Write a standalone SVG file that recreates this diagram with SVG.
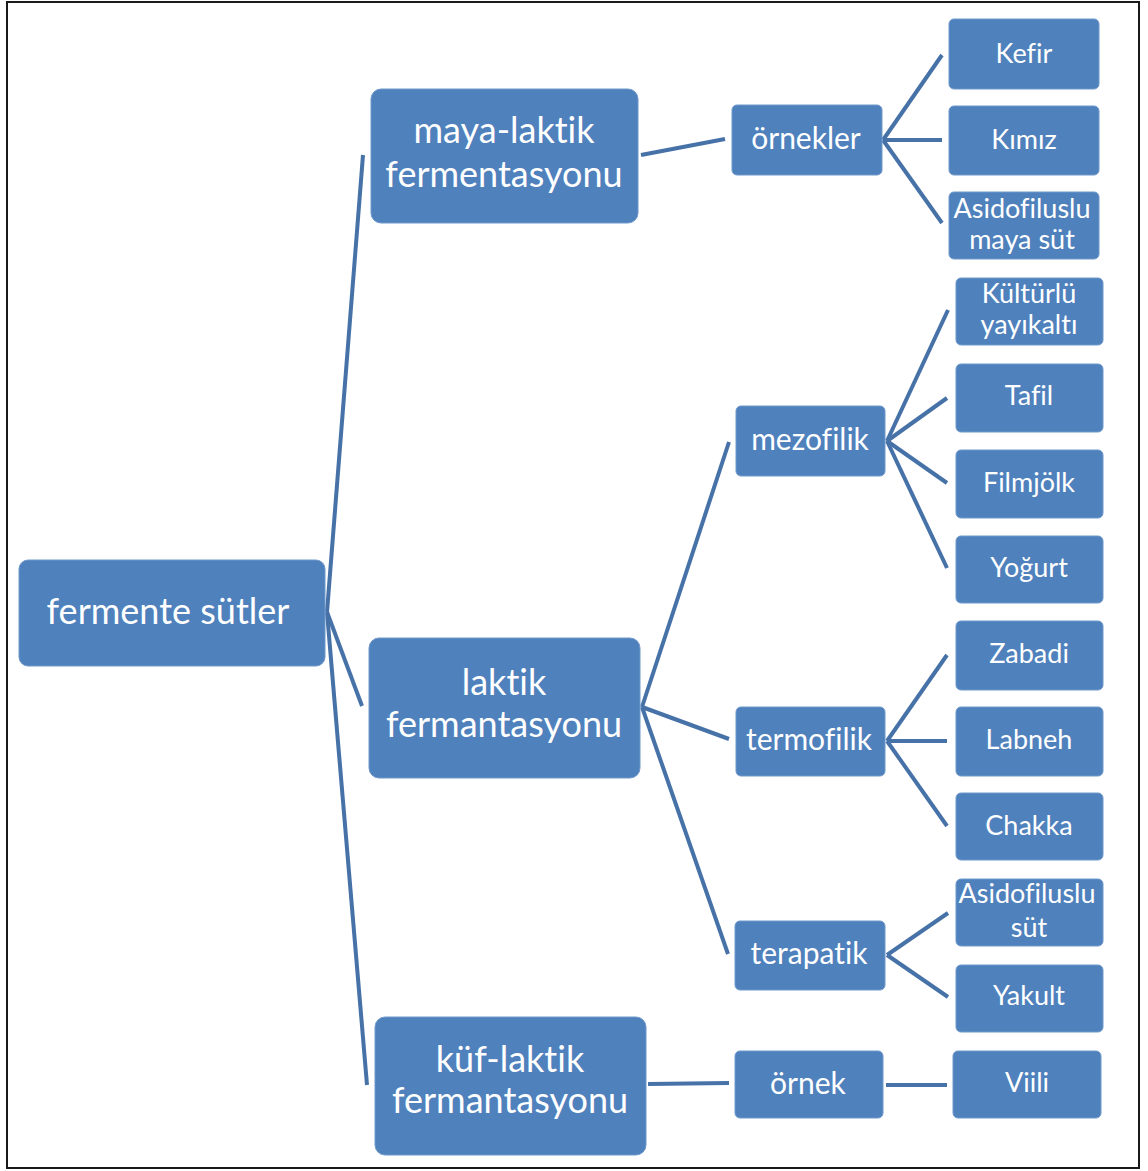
<svg xmlns="http://www.w3.org/2000/svg" width="1148" height="1171" viewBox="0 0 1148 1171">
<style>
.n{fill:#4F81BD;stroke:#6f98cb;stroke-width:1}
.t{fill:#fff;font-family:Lato,"Open Sans","Liberation Sans",sans-serif;text-anchor:middle;font-variant-ligatures:none;font-feature-settings:"liga" 0,"dlig" 0}
.b{font-size:36px}
.m{font-size:30px}
.l{font-size:27px}
.c{stroke:#4672a8;stroke-width:4;fill:none}
</style>
<rect x="0" y="0" width="1148" height="1171" fill="#fff"/>
<rect x="7" y="2" width="1132" height="1166" fill="none" stroke="#1a1a1a" stroke-width="2"/>
<g id="connectors">
<line class="c" x1="327" y1="612" x2="363" y2="155" stroke-width="3"/>
<line class="c" x1="327" y1="612" x2="362" y2="706"/>
<line class="c" x1="327" y1="612" x2="367" y2="1085" stroke-width="3"/>
<line class="c" x1="641" y1="155" x2="725" y2="139"/>
<line class="c" x1="883" y1="140" x2="942" y2="55"/>
<line class="c" x1="883" y1="140" x2="942" y2="140"/>
<line class="c" x1="883" y1="140" x2="942" y2="223"/>
<line class="c" x1="642" y1="707" x2="729" y2="442"/>
<line class="c" x1="642" y1="707" x2="729" y2="739"/>
<line class="c" x1="642" y1="707" x2="728" y2="954"/>
<line class="c" x1="887" y1="441" x2="948" y2="310"/>
<line class="c" x1="887" y1="441" x2="947" y2="398"/>
<line class="c" x1="887" y1="441" x2="947" y2="483"/>
<line class="c" x1="887" y1="441" x2="947" y2="568"/>
<line class="c" x1="887" y1="741" x2="947" y2="655"/>
<line class="c" x1="887" y1="741" x2="947" y2="741"/>
<line class="c" x1="887" y1="741" x2="947" y2="826"/>
<line class="c" x1="887" y1="955" x2="948" y2="913"/>
<line class="c" x1="887" y1="955" x2="948" y2="997"/>
<line class="c" x1="648" y1="1084" x2="729" y2="1083"/>
<line class="c" x1="886" y1="1085" x2="947" y2="1085"/>
</g>
<g id="root"><rect class="n" x="19" y="560" width="306" height="106" rx="9"/><text class="t b" x="168" y="624">fermente sütler</text></g>
<g id="maya"><rect class="n" x="371" y="89" width="267" height="134" rx="10"/><text class="t b" x="504" y="143">maya-laktik</text><text class="t b" x="504" y="187">fermentasyonu</text></g>
<g id="laktik"><rect class="n" x="369" y="638" width="271" height="140" rx="10"/><text class="t b" x="504" y="695">laktik</text><text class="t b" x="504" y="737">fermantasyonu</text></g>
<g id="kuf"><rect class="n" x="375" y="1017" width="271" height="138" rx="10"/><text class="t b" x="510" y="1072">küf-laktik</text><text class="t b" x="510" y="1113">fermantasyonu</text></g>
<g id="ornekler"><rect class="n" x="732" y="105" width="150" height="70" rx="5"/><text class="t m" x="806" y="149">örnekler</text></g>
<g id="mezofilik"><rect class="n" x="736" y="406" width="149" height="70" rx="5"/><text class="t m" x="810" y="450">mezofilik</text></g>
<g id="termofilik"><rect class="n" x="736" y="707" width="149" height="69" rx="5"/><text class="t m" x="809" y="750">termofilik</text></g>
<g id="terapatik"><rect class="n" x="735" y="921" width="150" height="69" rx="5"/><text class="t m" x="809" y="964">terapatik</text></g>
<g id="ornek"><rect class="n" x="735" y="1051" width="148" height="67" rx="5"/><text class="t m" x="808" y="1094">örnek</text></g>
<g id="kefir"><rect class="n" x="949" y="19" width="150" height="70" rx="5"/><text class="t l" x="1024" y="63">Kefir</text></g>
<g id="kimiz"><rect class="n" x="949" y="106" width="150" height="69" rx="5"/><text class="t l" x="1024" y="149">Kımız</text></g>
<g id="asidomaya"><rect class="n" x="949" y="192" width="150" height="67" rx="5"/><text class="t l" x="1022" y="218">Asidofiluslu</text><text class="t l" x="1022" y="249">maya süt</text></g>
<g id="kulturlu"><rect class="n" x="956" y="278" width="147" height="67" rx="5"/><text class="t l" x="1029" y="303">Kültürlü</text><text class="t l" x="1029" y="334">yayıkaltı</text></g>
<g id="tafil"><rect class="n" x="956" y="364" width="147" height="68" rx="5"/><text class="t l" x="1029" y="405">Tafil</text></g>
<g id="filmjolk"><rect class="n" x="956" y="450" width="147" height="68" rx="5"/><text class="t l" x="1029" y="492">Filmjölk</text></g>
<g id="yogurt"><rect class="n" x="956" y="536" width="147" height="67" rx="5"/><text class="t l" x="1029" y="577">Yoğurt</text></g>
<g id="zabadi"><rect class="n" x="956" y="621" width="147" height="69" rx="5"/><text class="t l" x="1029" y="663">Zabadi</text></g>
<g id="labneh"><rect class="n" x="956" y="707" width="147" height="69" rx="5"/><text class="t l" x="1029" y="749">Labneh</text></g>
<g id="chakka"><rect class="n" x="956" y="793" width="147" height="67" rx="5"/><text class="t l" x="1029" y="835">Chakka</text></g>
<g id="asidosut"><rect class="n" x="956" y="879" width="147" height="67" rx="5"/><text class="t l" x="1027" y="903">Asidofiluslu</text><text class="t l" x="1029" y="937">süt</text></g>
<g id="yakult"><rect class="n" x="956" y="965" width="147" height="67" rx="5"/><text class="t l" x="1029" y="1005">Yakult</text></g>
<g id="viili"><rect class="n" x="953" y="1051" width="148" height="67" rx="5"/><text class="t l" x="1027" y="1092">Viili</text></g>
</svg>
